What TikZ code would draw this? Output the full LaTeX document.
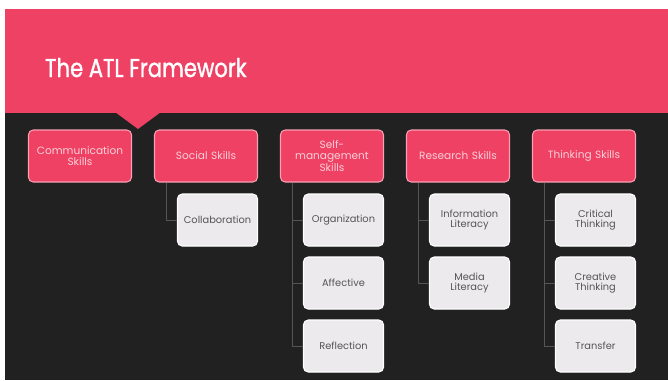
\documentclass[tikz,border=0pt]{standalone}
\usepackage{fontspec}
\setmainfont{Poppins}
\newfontfamily\atltitlefont[FakeStretch=0.82, FakeBold=1.3]{Poppins}
\usepackage{tikz}

\definecolor{atlpink}{RGB}{238,65,100}
\definecolor{atledge}{RGB}{246,160,178}
\definecolor{atldark}{RGB}{33,33,33}
\definecolor{atlgrey}{RGB}{236,234,236}
\definecolor{atlline}{RGB}{85,85,85}

\begin{document}
\begin{tikzpicture}[x=0.03cm, y=-0.03cm,
    skill/.style={rectangle, draw=atledge, line width=0.9pt, rounded corners=4pt, fill=atlpink,
                  minimum width=3.09cm, minimum height=1.56cm, text width=3.0cm, align=center,
                  text=white!75!atlpink, font=\fontsize{9}{9.5}\selectfont, inner sep=1pt},
    sub/.style={rectangle, draw=white, line width=0.9pt, rounded corners=4pt, fill=atlgrey,
                minimum width=2.4cm, minimum height=1.56cm, text width=2.3cm, align=center,
                text=atlline, font=\fontsize{8.4}{9}\selectfont, inner sep=1pt},
    link/.style={draw=atlline, line width=0.5pt},
    title/.style={text=white, font=\atltitlefont\fontsize{22}{26}\selectfont, anchor=base west}
]
    \useasboundingbox (0,0) rectangle (668,380);

    % Background
    \fill[atlpink] (5,9) rectangle (668,113);
    \fill[atldark] (5,113) rectangle (668,380);
    \fill[atlpink] (115,112) -- (161,112) -- (138,129) -- cycle;

    % Title
    \node[title] (head) at (41,77) {The ATL Framework};

    % Skill clusters
    \node[skill] (comm) at (80,156) {Communication\\Skills};
    \node[skill] (social) at (206,156) {Social Skills};
    \node[skill] (self) at (332,156) {Self-\\management\\Skills};
    \node[skill] (research) at (458,156) {Research Skills};
    \node[skill] (thinking) at (584,156) {Thinking Skills};

    % Sub skills
    \node[sub] (collab) at (217.5,220) {Collaboration};

    \node[sub] (organ) at (343.5,220) {Organization};
    \node[sub] (affect) at (343.5,283) {Affective};
    \node[sub] (reflect) at (343.5,346) {Reflection};

    \node[sub] (info) at (469.5,220) {Information\\Literacy};
    \node[sub] (media) at (469.5,283) {Media\\Literacy};

    \node[sub] (critical) at (595.5,220) {Critical\\Thinking};
    \node[sub] (creative) at (595.5,283) {Creative\\Thinking};
    \node[sub] (transfer) at (595.5,346) {Transfer};

    % Connectors
    \draw[link] ([xshift=0.36cm]social.south west) |- (collab.west);

    \draw[link] ([xshift=0.36cm]self.south west) |- (organ.west);
    \draw[link] ([xshift=0.36cm]self.south west) |- (affect.west);
    \draw[link] ([xshift=0.36cm]self.south west) |- (reflect.west);

    \draw[link] ([xshift=0.36cm]research.south west) |- (info.west);
    \draw[link] ([xshift=0.36cm]research.south west) |- (media.west);

    \draw[link] ([xshift=0.36cm]thinking.south west) |- (critical.west);
    \draw[link] ([xshift=0.36cm]thinking.south west) |- (creative.west);
    \draw[link] ([xshift=0.36cm]thinking.south west) |- (transfer.west);
\end{tikzpicture}
\end{document}
